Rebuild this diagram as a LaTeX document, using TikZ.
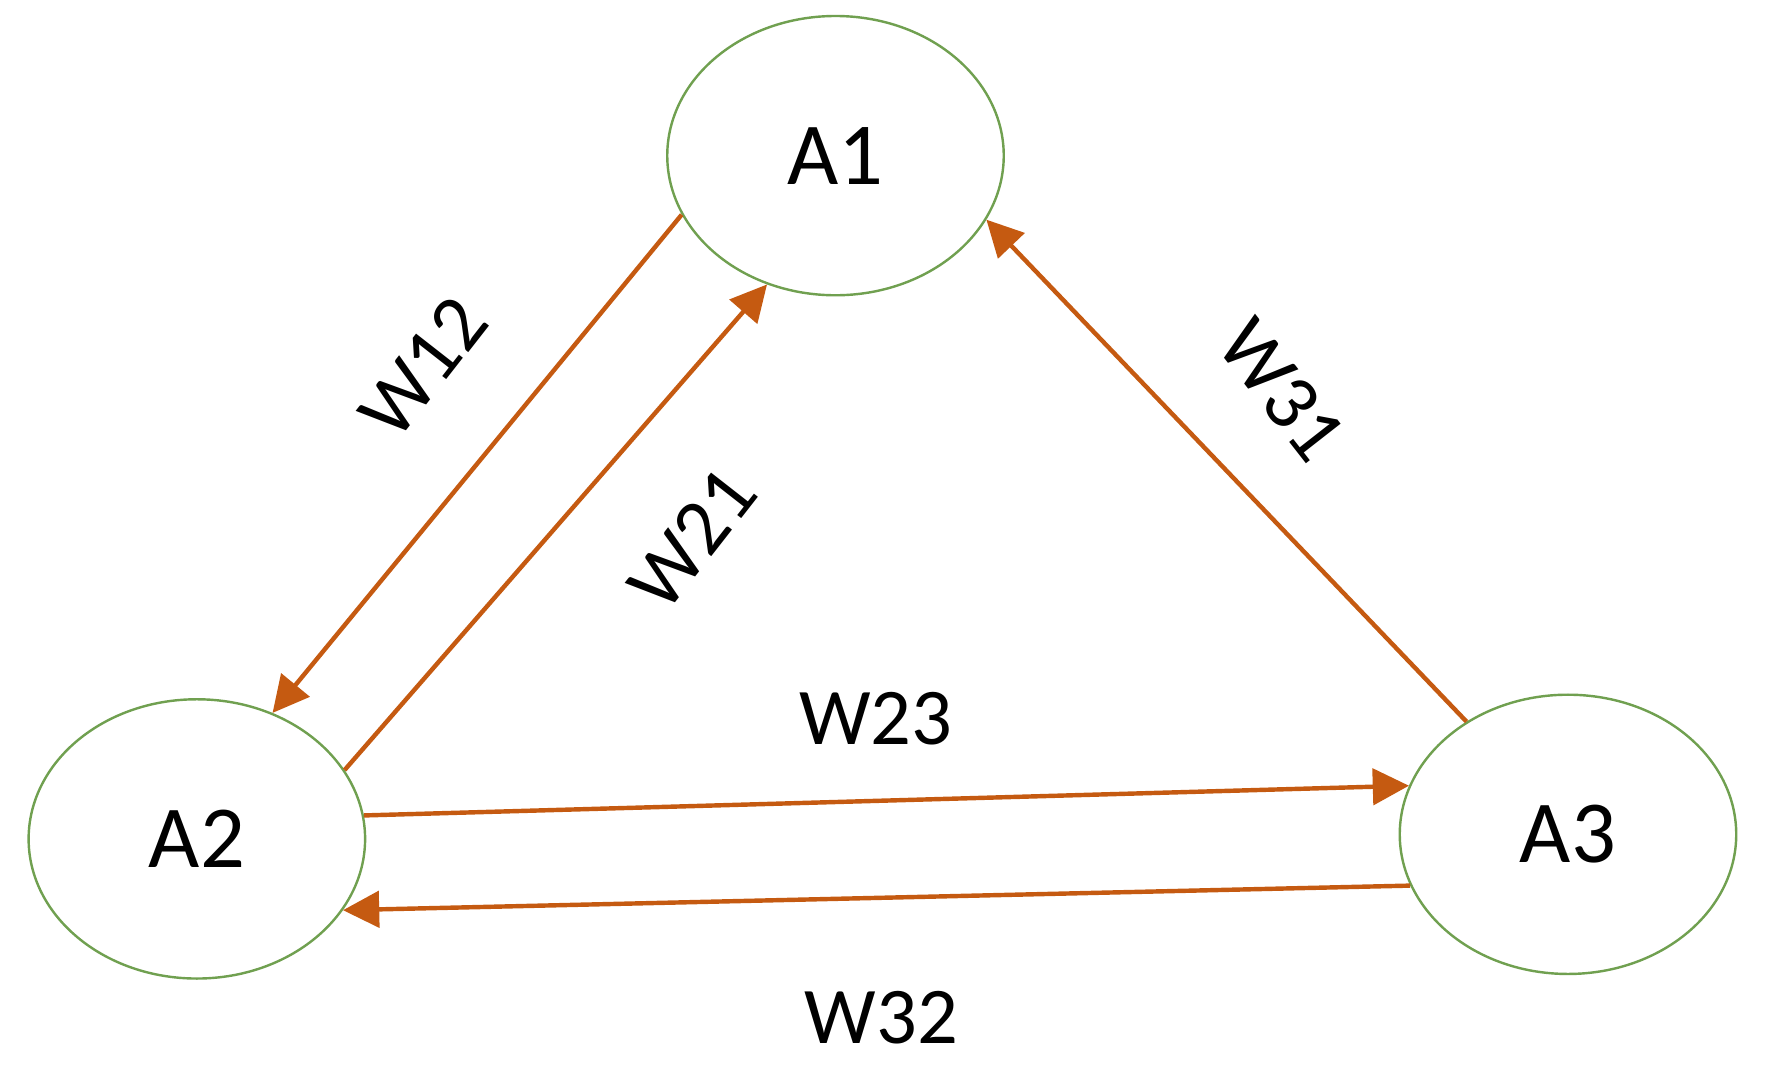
\documentclass[tikz,border=0pt]{standalone}
\usepackage{fontspec}
\setmainfont{Carlito}
\usetikzlibrary{shapes,arrows.meta,positioning,calc}
\definecolor{nodegreen}{HTML}{70A050}
\definecolor{edgeorange}{HTML}{C55A11}

\begin{document}
\begin{tikzpicture}[
    agent/.style={draw=nodegreen, ellipse, line width=0.6pt, minimum width=2.94cm, minimum height=2.44cm, font=\fontsize{22}{26}\selectfont},
    link/.style={draw=edgeorange, line width=1.1pt, -{Triangle[length=9pt,width=9pt]}},
    wlabel/.style={font=\fontsize{20}{24}\selectfont}]
    \useasboundingbox (0,0) rectangle (15.5,9.36);

    \node (A1) [agent] at (7.30,8.00) {A1};
    \node (A2) [agent] at (1.72,2.03) {A2};
    \node (A3) [agent] at (13.70,2.07) {A3};

    \draw [link] (A1.201) -- (A2.59);
    \draw [link] (A2.25) -- (A1.242);
    \draw [link] (A3.132) -- (A1.337);
    \draw [link] (A2.8) -- (A3.163);
    \draw [link] (A3.198) -- (A2.334);

    \node (w12) [wlabel, rotate=52] at (3.70,6.15) {W12};
    \node (w21) [wlabel, rotate=52] at (6.05,4.65) {W21};
    \node (w31) [wlabel, rotate=-52] at (11.20,5.95) {W31};
    \node (w23) [wlabel] at (7.65,3.08) {W23};
    \node (w32) [wlabel] at (7.70,0.47) {W32};
\end{tikzpicture}
\end{document}
